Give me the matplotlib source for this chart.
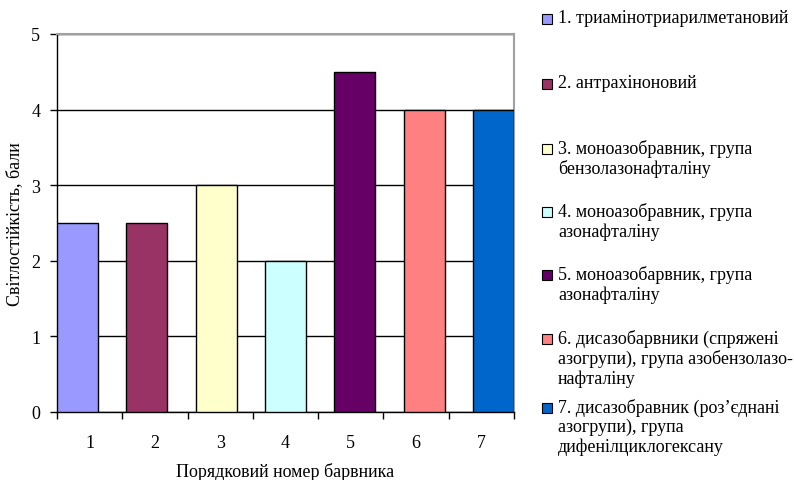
import matplotlib
matplotlib.use('Agg')
import matplotlib.pyplot as plt
from matplotlib.patches import Rectangle

plt.rcParams['font.family'] = ['Liberation Serif', 'DejaVu Serif']

# data
dye_numbers = ['1', '2', '3', '4', '5', '6', '7']
lightfastness = [2.5, 2.5, 3, 2, 4.5, 4, 4]
bar_colors = ['#9999FF', '#993366', '#FFFFCC', '#CCFFFF', '#660066', '#FF8080', '#0066CC']
legend_labels = [
    '1. триамінотриарилметановий',
    '2. антрахіноновий',
    '3. моноазобравник, група\nбензолазонафталіну',
    '4. моноазобравник, група\nазонафталіну',
    '5. моноазобарвник, група\nазонафталіну',
    '6. дисазобарвники (спряжені\nазогрупи), група азобензолазо-\nнафталіну',
    '7. дисазобравник (роз\u2019єднані\nазогрупи), група\nдифенілциклогексану',
]
legend_y_px = [20, 85, 150, 213, 276, 340, 409]

W, H = 794, 481
FS = 13
fig = plt.figure(figsize=(W / 100, H / 100), dpi=100)
ax = fig.add_axes([57 / W, 68 / H, 457 / W, 378 / H])

# category axis: ticks on boundaries, labels in between
n = len(dye_numbers)
ax.set_xlim(0, n)
ax.set_xticks(range(n + 1))
ax.set_xticklabels([])
ax.set_xticks([i + 0.5 for i in range(n)], minor=True)
ax.set_xticklabels(dye_numbers, minor=True)
ax.tick_params(axis='x', which='major', direction='out', length=5, width=1, color='black')
ax.tick_params(axis='x', which='minor', length=0, pad=16, labelsize=FS)

ax.set_ylim(0, 5)
ax.set_yticks(range(6))
ax.tick_params(axis='y', direction='out', length=5, width=1, labelsize=FS, pad=7)
ax.yaxis.grid(True, color='black', linewidth=1)
ax.set_axisbelow(True)

for side in ['top', 'right']:
    ax.spines[side].set_color('#A0A0A0')
    ax.spines[side].set_linewidth(1.5)
for side in ['left', 'bottom']:
    ax.spines[side].set_color('black')
    ax.spines[side].set_linewidth(1)

ax.set_xlabel('Порядковий номер барвника', fontsize=FS, labelpad=8)
ax.set_ylabel('Світлостійкість, бали', fontsize=FS, labelpad=6)

# bars (each series in its own slot spanning the plot area)
bx = ax.twiny()
width = 0.59
bx.set_xlim(-width / 2, n - 1 + width / 2)
bx.set_ylim(0, 5)
bx.bar(range(n), lightfastness, width=width, color=bar_colors,
       edgecolor='black', linewidth=1, zorder=3)
bx.set_xticks([])
for s in bx.spines.values():
    s.set_visible(False)

# legend
for label, color, ypx in zip(legend_labels, bar_colors, legend_y_px):
    fig.patches.append(Rectangle((542 / W, 1 - (ypx + 5) / H), 10 / W, 10 / H,
                                 transform=fig.transFigure, facecolor=color,
                                 edgecolor='black', linewidth=0.8))
    fig.text(558 / W, 1 - (ypx - 10) / H, label, fontsize=FS, va='top',
             ha='left', linespacing=1.15)

fig.savefig('out.png', dpi=100)
